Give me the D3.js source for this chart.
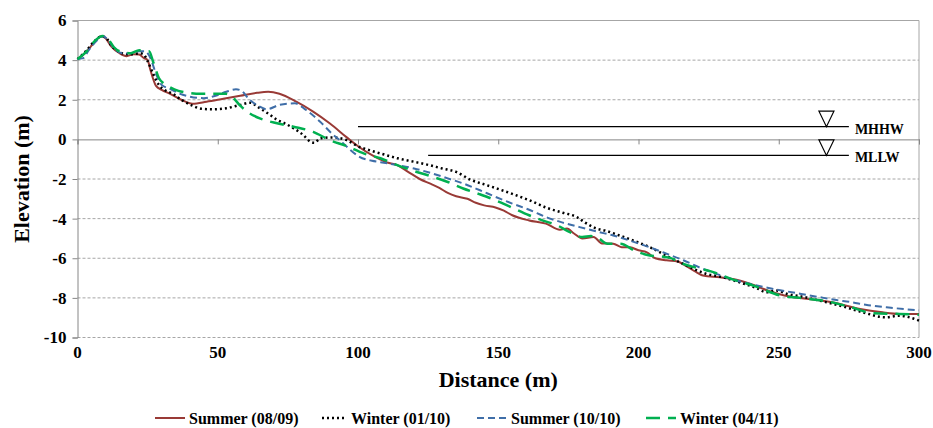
<!DOCTYPE html>
<html>
<head>
<meta charset="utf-8">
<script src="https://cdn.jsdelivr.net/npm/d3@7"></script>
<style>
  body { margin: 0; background: #fff; }
  svg text { font-family: "Liberation Serif", "Times New Roman", serif !important; font-weight: bold; fill: #000; }
</style>
</head>
<body>
<div id="chart"></div>
<script>
// profile data, [distance (m), elevation (m)]
var summer0809 = [[0,4.05],[3,4.4],[6,4.9],[8.5,5.2],[10,5.1],[12,4.7],[15,4.35],[17.5,4.2],[20,4.3],[22,4.28],[23.5,4.12],[25,4.0],[26,3.5],[28,2.7],[30,2.5],[33,2.3],[37,2.0],[41,1.8],[46,1.9],[52,2.05],[58,2.2],[64,2.35],[68,2.4],[72,2.3],[78,1.9],[84,1.4],[90,0.8],[96,0.1],[100,-0.35],[105,-0.8],[110,-1.15],[114,-1.3],[118,-1.65],[122,-2.0],[126,-2.25],[129,-2.45],[132,-2.7],[135,-2.87],[139,-3.0],[142,-3.2],[145,-3.33],[149,-3.44],[152,-3.6],[155,-3.83],[161,-4.09],[167,-4.25],[172,-4.56],[174.5,-4.5],[177,-4.75],[180,-5.0],[184,-4.93],[187,-5.25],[191,-5.27],[194,-5.44],[197,-5.45],[200,-5.6],[203,-5.7],[206,-6.0],[210,-6.1],[214,-6.16],[217,-6.4],[220,-6.65],[223,-6.87],[229,-6.96],[236,-7.12],[241,-7.35],[246,-7.63],[252,-7.88],[260,-8.05],[269,-8.22],[279,-8.56],[287,-8.73],[293,-8.81],[300,-8.82]];

var winter0110 = [[0,4.05],[3,4.45],[6,4.95],[8.5,5.2],[10,5.15],[12,4.75],[15,4.4],[17.5,4.3],[20,4.3],[22,4.35],[23.5,4.3],[25,3.95],[27,3.3],[29,2.75],[31,2.5],[34,2.3],[37,2.0],[41,1.7],[44,1.55],[48,1.52],[53,1.57],[58,1.74],[61.5,1.85],[65,1.57],[68,1.3],[71,1.0],[74,0.8],[77,0.56],[80.5,0.22],[83,-0.12],[84.5,-0.17],[86.5,0.05],[91,0.1],[96,-0.04],[100,-0.35],[103,-0.5],[108,-0.71],[114,-0.95],[120,-1.13],[126,-1.32],[130,-1.47],[135,-1.64],[140,-2.03],[145,-2.27],[149.5,-2.48],[155,-2.75],[161,-3.07],[168,-3.49],[173,-3.7],[178,-3.92],[181,-4.2],[185,-4.5],[188,-4.6],[192,-4.79],[198,-5.1],[204,-5.44],[211,-5.95],[217,-6.36],[224,-6.78],[230,-6.96],[237,-7.26],[242,-7.5],[245.7,-7.72],[249,-7.63],[253,-7.8],[258,-7.93],[267,-8.22],[273,-8.44],[280,-8.73],[288,-8.98],[293,-8.9],[300,-9.15]];

var summer1010 = [[0,4.05],[2,4.1],[4,4.5],[7,5.0],[9,5.2],[11,5.0],[13,4.6],[16,4.35],[19,4.35],[22,4.45],[24,4.45],[26,4.1],[28,3.3],[30,2.75],[33,2.55],[36,2.33],[40,2.16],[45,2.08],[50,2.24],[53,2.4],[56.5,2.53],[58.5,2.45],[61,2.05],[65,1.65],[67.5,1.52],[72,1.74],[77.5,1.82],[81.5,1.48],[86.5,0.89],[91,0.25],[94,-0.1],[97,-0.5],[100.5,-0.88],[105,-1.08],[108,-1.15],[114,-1.3],[120,-1.47],[126,-1.7],[132,-1.97],[138,-2.25],[143.5,-2.57],[149,-2.9],[155,-3.24],[161,-3.55],[167,-3.92],[173,-4.2],[179,-4.43],[186,-4.68],[191,-4.85],[198,-5.16],[204,-5.45],[210,-5.77],[216,-6.1],[222,-6.48],[228,-6.8],[234,-7.09],[240,-7.3],[246,-7.49],[252,-7.65],[258,-7.8],[264,-7.95],[270,-8.1],[276,-8.22],[281,-8.35],[290,-8.5],[300,-8.63]];

var winter0411 = [[0,4.05],[3,4.4],[6,4.95],[9,5.22],[11,5.05],[13,4.65],[16,4.4],[19,4.35],[22,4.5],[24,4.45],[25.5,4.45],[27,3.9],[29,3.1],[31,2.8],[33,2.63],[36,2.45],[39,2.36],[44,2.3],[49.5,2.3],[53,2.3],[55.5,2.1],[58,1.7],[61,1.35],[65,1.06],[70,0.85],[77,0.64],[84,0.38],[90,-0.04],[96,-0.34],[102,-0.71],[108,-0.95],[114,-1.3],[120,-1.6],[126,-1.86],[132,-2.15],[137.5,-2.48],[143,-2.75],[149,-3.07],[155,-3.45],[161,-3.83],[166,-4.1],[171,-4.34],[175.5,-4.68],[180,-4.93],[183,-4.88],[185,-4.93],[189,-5.27],[193.5,-5.27],[199,-5.64],[204,-5.86],[208,-5.91],[211,-5.97],[216,-6.28],[222,-6.53],[225.5,-6.65],[234,-7.09],[242,-7.43],[250.5,-7.88],[257.5,-8.0],[267,-8.17],[275,-8.44],[284,-8.78],[293,-8.81],[300,-8.85]];

// tidal datums: name, elevation, start/end distance, marker position
var datumNames = ["MHHW", "MLLW"];
var datumElev = [0.64, -0.81];
var datumStart = [100, 125];
var datumEnd = [275, 275];
var datumMark = 267;

var seriesNames = ["Summer (08/09)", "Winter (01/10)", "Summer (10/10)", "Winter (04/11)"];
var xTicks = [0, 50, 100, 150, 200, 250, 300];
var yTicks = [6, 4, 2, 0, -2, -4, -6, -8, -10];

(() => {
  var width = 933, height = 428;
  var margin = {top: 20.5, right: 14, bottom: 90.5, left: 77.5};
  var serif = '"Liberation Serif", "Times New Roman", serif';

  var svg = d3.select("#chart").append("svg")
    .attr("width", width)
    .attr("height", height)
    .attr("font-family", serif);

  var x = d3.scaleLinear().domain([0, 300]).range([margin.left, width - margin.right]);
  var y = d3.scaleLinear().domain([-10, 6]).range([height - margin.bottom, margin.top]);

  // gridlines
  svg.append("g").selectAll("line")
    .data(yTicks.filter(d => d != 0 && d != 6))
    .enter().append("line")
    .attr("x1", x(0)).attr("x2", x(300))
    .attr("y1", d => y(d)).attr("y2", d => y(d))
    .attr("stroke", "#a6a6a6").attr("stroke-width", 1)
    .attr("stroke-dasharray", "3,2");

  // plot border top / right
  svg.append("line").attr("x1", x(0)).attr("x2", x(300)).attr("y1", y(6)).attr("y2", y(6))
    .attr("stroke", "#a6a6a6");
  svg.append("line").attr("x1", x(300)).attr("x2", x(300)).attr("y1", y(6)).attr("y2", y(-10))
    .attr("stroke", "#a6a6a6");

  // y axis
  var yAxis = svg.append("g")
    .attr("transform", "translate(" + x(0) + ",0)")
    .call(d3.axisLeft(y).tickValues(yTicks).tickSize(5).tickPadding(6).tickFormat(d => String(d)));
  yAxis.attr("font-family", serif);
  yAxis.select(".domain").attr("stroke", "#868686");
  yAxis.selectAll(".tick line").attr("stroke", "#868686");
  yAxis.selectAll("text")
    .style("font-family", serif).style("font-weight", "bold").style("font-size", "17px")
    .attr("fill", "#000");

  // x axis line crosses at 0
  var xAxis = svg.append("g")
    .attr("transform", "translate(0," + y(0) + ")")
    .call(d3.axisBottom(x).tickValues(xTicks).tickSize(5).tickFormat(""));
  xAxis.select(".domain").attr("stroke", "#868686");
  xAxis.selectAll(".tick line").attr("stroke", "#868686");

  // x tick labels at bottom
  svg.append("g").selectAll("text")
    .data(xTicks)
    .enter().append("text")
    .attr("x", d => x(d))
    .attr("y", y(-10) + 20)
    .attr("text-anchor", "middle")
    .style("font-family", serif).style("font-weight", "bold")
    .style("font-size", "17px")
    .text(d => d);

  svg.append("text")
    .attr("x", (x(0) + x(300)) / 2)
    .attr("y", y(-10) + 49)
    .attr("text-anchor", "middle")
    .style("font-family", serif).style("font-weight", "bold")
    .style("font-size", "22px")
    .text("Distance (m)");

  svg.append("text")
    .attr("transform", "translate(29," + (y(6) + y(-10)) / 2 + ") rotate(-90)")
    .attr("text-anchor", "middle")
    .style("font-family", serif).style("font-weight", "bold")
    .style("font-size", "22px")
    .text("Elevation (m)");

  // tidal datum lines with markers
  datumNames.forEach(function(name, i) {
    var yy = y(datumElev[i]);
    svg.append("line")
      .attr("x1", x(datumStart[i])).attr("x2", x(datumEnd[i]))
      .attr("y1", yy).attr("y2", yy)
      .attr("stroke", "#000").attr("stroke-width", 1.2);
    var cx = x(datumMark);
    svg.append("path")
      .attr("d", "M" + (cx - 7.5) + "," + (yy - 15.5) + "L" + (cx + 7.5) + "," + (yy - 15.5) + "L" + cx + "," + yy + "Z")
      .attr("fill", "#fff").attr("stroke", "#000").attr("stroke-width", 1.2);
    svg.append("text")
      .attr("x", x(datumEnd[i]) + 6)
      .attr("y", yy + 7)
      .style("font-family", serif).style("font-weight", "bold")
      .style("font-size", "14px")
      .text(name);
  });

  var styles = [
    {color: "#993a36", dash: null, w: 2},
    {color: "#000000", dash: "2,3", w: 2.5},
    {color: "#3f6ea8", dash: "7,4", w: 2},
    {color: "#00b050", dash: "14,8", w: 2.5}
  ];
  var allSeries = [summer0809, winter0110, summer1010, winter0411];

  var line = d3.line()
    .x(d => x(d[0]))
    .y(d => y(d[1]))
    .curve(d3.curveMonotoneX);

  allSeries.forEach(function(data, i) {
    svg.append("path")
      .datum(data)
      .attr("fill", "none")
      .attr("stroke", styles[i].color)
      .attr("stroke-width", styles[i].w)
      .attr("stroke-dasharray", styles[i].dash)
      .attr("d", line);
  });

  // legend
  var legendX = [155, 322, 477, 646];
  var legendLen = [30, 25, 30, 30];
  var legendY = 418;
  var lg = svg.append("g").selectAll("g")
    .data(seriesNames)
    .enter().append("g")
    .attr("transform", (d, i) => "translate(" + legendX[i] + "," + legendY + ")");
  lg.append("line")
    .attr("x1", 0).attr("x2", (d, i) => legendLen[i]).attr("y1", 0).attr("y2", 0)
    .attr("stroke", (d, i) => styles[i].color)
    .attr("stroke-width", (d, i) => styles[i].w)
    .attr("stroke-dasharray", (d, i) => styles[i].dash);
  lg.append("text")
    .attr("x", (d, i) => legendLen[i] + 4)
    .attr("y", 5.5)
    .style("font-family", serif).style("font-weight", "bold")
    .style("font-size", "16px")
    .text(d => d);
})();
</script>
</body>
</html>
